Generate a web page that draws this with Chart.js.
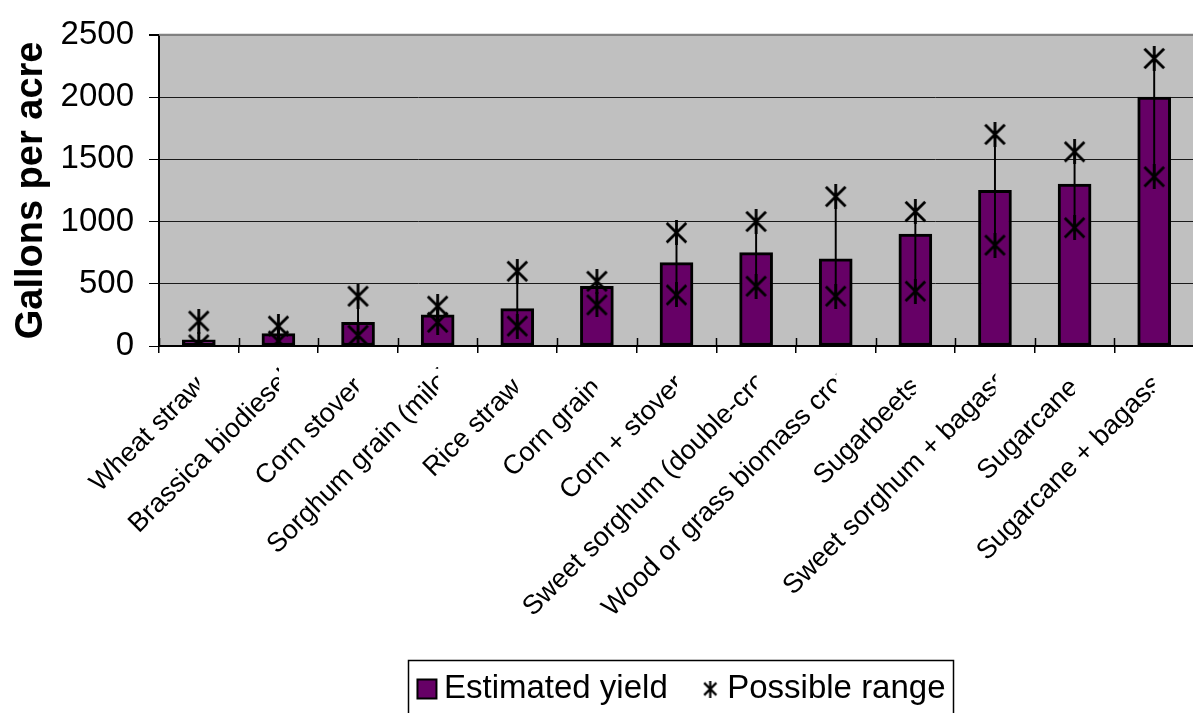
<!DOCTYPE html>
<html><head><meta charset="utf-8">
<script src="https://cdn.jsdelivr.net/npm/chart.js@4.4.1/dist/chart.umd.min.js"></script>
<style>
html,body{margin:0;padding:0;background:#fff;overflow:hidden;width:1193px;height:713px;}
#wrap{position:absolute;left:0;top:0;width:1206px;height:750px;}
</style></head><body>
<div id="wrap"><canvas id="c"></canvas></div>
<script>
const categories = ["Wheat straw","Brassica biodiesel","Corn stover","Sorghum grain (milo)","Rice straw","Corn grain","Corn + stover","Sweet sorghum (double-crop)","Wood or grass biomass crops","Sugarbeets","Sweet sorghum + bagasse","Sugarcane","Sugarcane + bagasse"];
const estimatedYield = [50,100,190,250,300,480,670,750,700,900,1250,1300,2000];
const rangeLow  = [10,40,85,190,160,330,410,480,400,440,810,950,1360];
const rangeHigh = [200,160,400,320,600,520,910,1000,1200,1080,1700,1560,2310];
const yTickValues = [0,500,1000,1500,2000,2500];
const seriesNames = ["Estimated yield","Possible range"];
const yTitle = "Gallons per acre";

const FONT = '"Liberation Sans", Arial, sans-serif';
const BAR_COLOR = '#660066';
const PLOT_BOTTOM = 346;
const LEGEND_TEXT_Y = 689;
const LEGEND_CENTER_X = 686;
// Excel-style label overflow: long labels run past the tick and get cut there
const OVERSHOOT_K = 0.146, OVERSHOOT_C = 0.707;

function makeStar(w, h, lw){
  const c = document.createElement('canvas'); c.width = w; c.height = h;
  const g = c.getContext('2d');
  g.strokeStyle = '#000'; g.lineWidth = lw;
  const p = lw/2 + 0.3;
  g.beginPath();
  g.moveTo(p, p + 1); g.lineTo(w - p, h - p - 1);
  g.moveTo(w - p, p + 1); g.lineTo(p, h - p - 1);
  g.moveTo(w/2, 0); g.lineTo(w/2, h);
  g.stroke();
  return c;
}
const starMarker = makeStar(23, 25, 2.8);
const starLegend = makeStar(15, 17, 2.2);

const plotDeco = {
  id: 'plotDeco',
  beforeDraw(chart){
    const {ctx, chartArea: a} = chart;
    ctx.save();
    ctx.fillStyle = '#C0C0C0';
    ctx.fillRect(a.left, a.top, a.right - a.left, a.bottom - a.top);
    ctx.restore();
  },
  afterLayout(chart){
    const s = chart.scales.x;
    if (!s._clipWrapped){
      s.drawLabels = function(){
        const ctx = this.ctx;
        const items = this.getLabelItems();
        items.forEach((item, i) => {
          const o = item.options || item;
          const cx = this.getPixelForTick(i);
          ctx.save();
          ctx.beginPath();
          ctx.rect(0, this.top, cx + 0.5, this.bottom - this.top);
          ctx.clip();
          ctx.translate(o.translation[0], o.translation[1]);
          ctx.rotate(o.rotation);
          ctx.font = item.font.string;
          ctx.fillStyle = o.color || '#000';
          ctx.textAlign = o.textAlign;
          ctx.textBaseline = o.textBaseline;
          const w = ctx.measureText(item.label).width;
          const shift = Math.max(0, OVERSHOOT_K * w - OVERSHOOT_C * item.font.size);
          ctx.fillText(item.label, shift, item.textOffset);
          ctx.restore();
        });
      };
      s._clipWrapped = true;
    }
    const lg = chart.legend;
    if (lg){
      const dx = LEGEND_CENTER_X - (lg.left + lg.right)/2;
      lg.left += dx; lg.right += dx;
      const pad = lg.options.labels.padding;
      const itemH = Math.max(lg.options.labels.font.size, lg.options.labels.boxHeight);
      const newTop = LEGEND_TEXT_Y - pad - itemH/2;
      const dy = newTop - lg.top;
      lg.top += dy; lg.bottom += dy;
    }
  },
  afterDatasetsDraw(chart){
    // cross-style category tick marks: inner half above the axis line
    const {ctx, chartArea: a} = chart;
    const s = chart.scales.x;
    const n = s.ticks.length;
    if (n < 2) return;
    const step = s.getPixelForTick(1) - s.getPixelForTick(0);
    ctx.save();
    ctx.strokeStyle = '#000';
    ctx.lineWidth = 1.5;
    ctx.beginPath();
    for (let i = 0; i <= n; i++){
      const x = Math.round(s.getPixelForTick(0) - step/2 + i*step) + 0.5;
      ctx.moveTo(x, a.bottom - 8); ctx.lineTo(x, a.bottom);
    }
    ctx.stroke();
    ctx.restore();
  },
  afterDraw(chart){
    const {ctx, chartArea: a} = chart;
    ctx.save();
    ctx.strokeStyle = '#808080';
    ctx.lineWidth = 2;
    ctx.beginPath();
    ctx.moveTo(a.left, a.top); ctx.lineTo(a.right, a.top);
    ctx.moveTo(a.right, a.top); ctx.lineTo(a.right, a.bottom);
    ctx.stroke();
    const hb = chart.legend && chart.legend.legendHitBoxes;
    if (hb && hb.length){
      const first = hb[0], last = hb[hb.length-1];
      const cy = first.top + first.height/2;
      const l = first.left - 18.5, r = last.left + last.width + 7;
      ctx.strokeStyle = '#000';
      ctx.lineWidth = 1.5;
      ctx.strokeRect(Math.round(l)+0.5, Math.round(cy - 29)+0.5, Math.round(r - l), 62);
    }
    ctx.restore();
  }
};

new Chart(document.getElementById('c'), {
  type: 'bar',
  data: {
    labels: categories,
    datasets: [
      {
        type: 'line', label: seriesNames[1] + ' high', data: rangeHigh,
        showLine: false, pointStyle: starMarker, pointRadius: 11, order: 1
      },
      {
        type: 'line', label: seriesNames[1] + ' low', data: rangeLow,
        showLine: false, pointStyle: starMarker, pointRadius: 11, order: 1
      },
      {
        label: seriesNames[1] + ' line', data: categories.map((_, i) => [rangeLow[i], rangeHigh[i]]),
        backgroundColor: '#000', borderWidth: 0, barThickness: 1.3, grouped: false, order: 2
      },
      {
        label: seriesNames[0], data: estimatedYield,
        backgroundColor: BAR_COLOR, borderColor: '#000', borderWidth: 3, borderSkipped: false,
        barThickness: 33, grouped: false, order: 3
      }
    ]
  },
  options: {
    responsive: true, maintainAspectRatio: false, devicePixelRatio: 1,
    animation: false, events: [],
    layout: { padding: { left: 0, right: 2, top: 30, bottom: 14 } },
    plugins: {
      tooltip: { enabled: false },
      title: { display: false },
      legend: {
        display: true, position: 'bottom',
        labels: {
          usePointStyle: true, boxWidth: 1, boxHeight: 19, padding: 42,
          color: '#000', font: { family: FONT, size: 33 },
          generateLabels: () => [
            { text: seriesNames[0], fillStyle: BAR_COLOR, strokeStyle: '#000', lineWidth: 2, pointStyle: 'rect', hidden: false, datasetIndex: 3, fontColor: '#000' },
            { text: seriesNames[1], fillStyle: '#000', strokeStyle: '#000', lineWidth: 0, pointStyle: starLegend, hidden: false, datasetIndex: 0, fontColor: '#000' }
          ]
        }
      }
    },
    scales: {
      x: {
        offset: true,
        grid: { offset: true, drawOnChartArea: false, tickLength: 7, color: '#000', lineWidth: 1.5 },
        border: { color: '#000', width: 2 },
        ticks: {
          autoSkip: false, minRotation: 45, maxRotation: 45, padding: 19,
          color: '#000', font: { family: FONT, size: 27 }
        },
        afterFit(s){
          const lgH = s.chart.legend ? s.chart.legend.height : 0;
          s.height = s.chart.height - 14 - lgH - PLOT_BOTTOM;
        }
      },
      y: {
        min: 0, max: 2500,
        afterBuildTicks(s){ s.ticks = yTickValues.map(v => ({ value: v })); },
        grid: {
          color: c => (c.tick && c.tick.value === 2500) ? '#808080' : '#1a1a1a',
          lineWidth: c => (c.tick && c.tick.value === 2500) ? 2 : 1,
          tickColor: '#000', tickLength: 10
        },
        border: { color: '#000', width: 2 },
        ticks: {
          padding: 15, color: '#000', font: { family: FONT, size: 33 },
          callback: v => String(v)
        },
        title: {
          display: true, text: yTitle, color: '#000',
          font: { family: FONT, size: 38, weight: 'bold', lineHeight: 1.2 },
          padding: { top: 9, bottom: 0 }
        },
        afterFit(s){ s.width = 159; }
      }
    }
  },
  plugins: [plotDeco]
});
</script>
</body></html>
